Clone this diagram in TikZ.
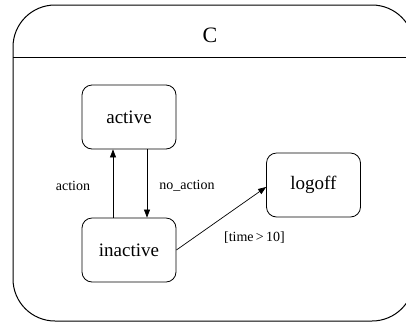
\documentclass[tikz,border=0pt]{standalone}
\usepackage{fontspec}
\setmainfont{Liberation Serif}
\usetikzlibrary{arrows.meta}
\begin{document}
\begin{tikzpicture}[x=1pt,y=1pt,
  statebox/.style={draw, line width=0.8pt, rounded corners=10pt, minimum width=94pt, minimum height=64pt, inner sep=0pt, font=\fontsize{19}{21}\selectfont},
  trans/.style={line width=0.7pt, -{Triangle[length=8pt,width=6pt]}},
  lbl/.style={font=\fontsize{14}{16}\selectfont, inner sep=0pt}]
\useasboundingbox (0,0) rectangle (406,-322);
\clip (0,0) rectangle (406,-322);
\draw[line width=1pt, rounded corners=42pt] (13,-5) rectangle (414,-321);
\draw[line width=1pt] (13,-57) -- (414,-57);
\node[font=\fontsize{22}{24}\selectfont] (title) at (210,-35) {C};
\node[statebox] (active) at (129,-117) {active};
\node[statebox] (inactive) at (129,-250) {inactive};
\node[statebox] (logoff) at (313.5,-185) {logoff};
\draw[trans] (inactive.north -| 113,0) -- (active.south -| 113,0);
\draw[trans] (active.south -| 147,0) -- (inactive.north -| 147,0);
\draw[trans] (inactive.east) -- (logoff.west |- 0,-187);
\node[lbl] (la) at (73,-186) {action};
\node[lbl] (lna) at (187,-186) {no\_action};
\node[lbl] (lt) at (254.5,-238) {[time\,>\,10]};
\end{tikzpicture}
\end{document}
